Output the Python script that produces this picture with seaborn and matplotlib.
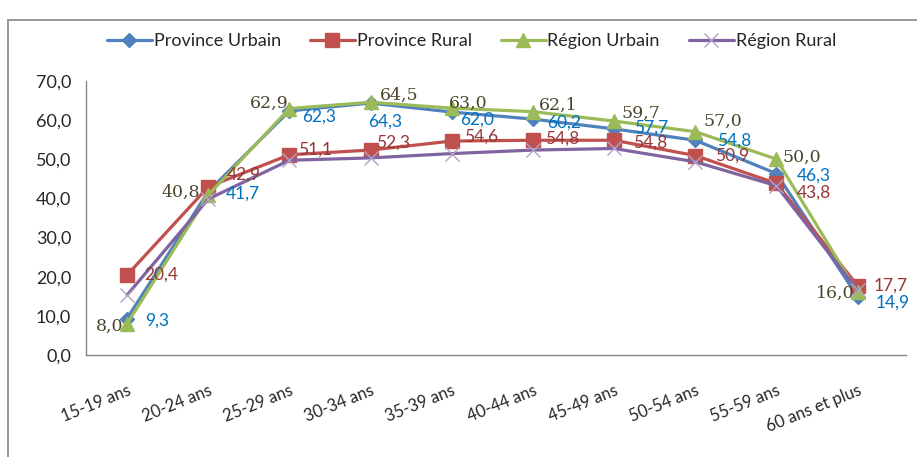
import numpy as np
import pandas as pd
import matplotlib
matplotlib.use("Agg")
import matplotlib.pyplot as plt
from matplotlib.patches import Rectangle
import seaborn as sns

# Data
age_groups = ["15-19 ans", "20-24 ans", "25-29 ans", "30-34 ans", "35-39 ans",
              "40-44 ans", "45-49 ans", "50-54 ans", "55-59 ans", "60 ans et plus"]
province_urbain = [9.3, 41.7, 62.3, 64.3, 62.0, 60.2, 57.7, 54.8, 46.3, 14.9]
province_rural = [20.4, 42.9, 51.1, 52.3, 54.6, 54.8, 54.8, 50.9, 43.8, 17.7]
region_urbain = [8.0, 40.8, 62.9, 64.5, 63.0, 62.1, 59.7, 57.0, 50.0, 16.0]
region_rural = [15.3, 39.8, 49.7, 50.3, 51.4, 52.3, 52.7, 49.3, 43.2, 16.6]

sns.set_style("white")
plt.rcParams["font.family"] = ["Lato", "DejaVu Sans"]

series = {
    "Province Urbain": province_urbain,
    "Province Rural": province_rural,
    "Région Urbain": region_urbain,
    "Région Rural": region_rural,
}
df = pd.DataFrame(
    [(i, name, v) for name, vals in series.items() for i, v in enumerate(vals)],
    columns=["pos", "serie", "valeur"],
)

line_colors = {"Province Urbain": "#4F81BD", "Province Rural": "#C0504D",
               "Région Urbain": "#9BBB59", "Région Rural": "#8064A2"}
markers = {"Province Urbain": "D", "Province Rural": "s",
           "Région Urbain": "^", "Région Rural": "x"}
marker_sizes = {"Province Urbain": 7, "Province Rural": 10,
                "Région Urbain": 10, "Région Rural": 10}

fig = plt.figure(figsize=(9.17, 4.57), dpi=100)
ax = fig.add_axes([0.0943, 0.2232, 0.894, 0.6002])

handles = []
for name in series:
    sub = df[df["serie"] == name]
    mk_color = "#B3A2C7" if name == "Région Rural" else line_colors[name]
    sns.lineplot(data=sub, x="pos", y="valeur", ax=ax, color=line_colors[name],
                 linewidth=2.3, marker=markers[name], markersize=marker_sizes[name],
                 markerfacecolor=mk_color, markeredgecolor=mk_color,
                 markeredgewidth=1.0, label=name, legend=False)
    handles.append(ax.lines[-1])


def fmt(v):
    return f"{v:.1f}".replace(".", ",")


PX = 0.72  # pixel -> point at 100 dpi

# label placement (pixels: dx, dy up), no labels on Région Rural in the reference
blue_off = [(18, -2), (18, -2), (13, -6), (-2, -19), (8, -8),
            (14, -4), (20, 1), (22, 0), (20, -2), (18, -6)]
red_off = [(17, 0), (19, 12), (9, 5), (5, 7), (12, 4),
           (12, 2), (19, -2), (20, 0), (20, -9), (16, 0)]
green_off = [(-4, -3, "right"), (-8, 3, "right"), (-1, 5, "right"), (9, 7, "left"),
             (-3, 5, "left"), (6, 6, "left"), (7, 8, "left"), (8, 10, "left"),
             (6, 2, "left"), (-3, -1, "right")]

for i, v in enumerate(province_urbain):
    dx, dy = blue_off[i]
    ax.annotate(fmt(v), (i, v), xytext=(dx * PX, dy * PX), textcoords="offset points",
                ha="left", va="center", color="#0070C0", fontsize=12.5)
for i, v in enumerate(province_rural):
    dx, dy = red_off[i]
    ax.annotate(fmt(v), (i, v), xytext=(dx * PX, dy * PX), textcoords="offset points",
                ha="left", va="center", color="#953735", fontsize=12.5)
for i, v in enumerate(region_urbain):
    dx, dy, ha = green_off[i]
    ax.annotate(fmt(v), (i, v), xytext=(dx * PX, dy * PX), textcoords="offset points",
                ha=ha, va="center", color="#4A452A", fontsize=12.5,
                family=["DejaVu Serif"])

ax.set_xlim(-0.5, len(age_groups) - 0.5 + 0.1)
ax.set_ylim(0, 70)
yticks = np.arange(0, 71, 10)
ax.set_yticks(yticks)
ax.set_yticklabels([fmt(t) for t in yticks], fontsize=13)
ax.set_xticks(range(len(age_groups)))
ax.set_xticklabels(age_groups, rotation=22, ha="right", va="top",
                   rotation_mode="anchor", fontsize=12)
ax.set_xticks(np.arange(-0.5, len(age_groups), 1), minor=True)
ax.tick_params(axis="x", which="major", length=0, pad=20)
ax.tick_params(axis="x", which="minor", length=5, color="#868686", direction="out")
ax.tick_params(axis="y", length=5, color="#868686", direction="out", pad=6)
ax.set_xlabel("")
ax.set_ylabel("")
for side in ["top", "right"]:
    ax.spines[side].set_visible(False)
for side in ["left", "bottom"]:
    ax.spines[side].set_color("#868686")
    ax.spines[side].set_linewidth(1.0)

fig.legend(handles=handles, labels=list(series.keys()), loc="center",
           bbox_to_anchor=(0.514, 0.91), ncol=4, frameon=False, fontsize=13,
           handlelength=2.5, columnspacing=1.6, handletextpad=0.1)

# Chart outer border
fig.patches.append(Rectangle((0.009, -0.01), 1.0, 0.966, transform=fig.transFigure,
                             fill=False, edgecolor="#868686", linewidth=1.2))

fig.savefig("out.png", dpi=100)
